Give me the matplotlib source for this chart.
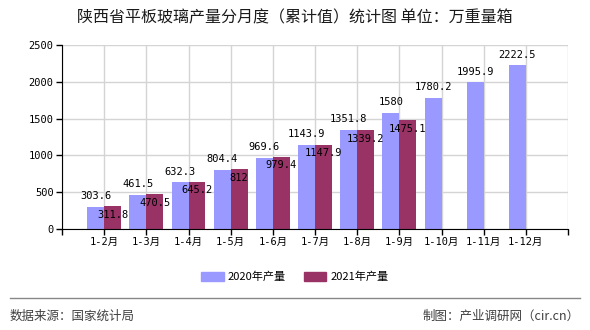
import matplotlib
matplotlib.use("Agg")
import matplotlib.pyplot as plt
import numpy as np
from matplotlib.patches import Patch
from matplotlib.lines import Line2D

plt.rcParams["font.family"] = ["Noto Sans CJK SC", "DejaVu Sans"]

months = ["1-2月", "1-3月", "1-4月", "1-5月", "1-6月", "1-7月",
          "1-8月", "1-9月", "1-10月", "1-11月", "1-12月"]
output_2020 = [303.6, 461.5, 632.3, 804.4, 969.6, 1143.9, 1351.8, 1580, 1780.2, 1995.9, 2222.5]
output_2021 = [311.8, 470.5, 645.2, 812, 979.4, 1147.9, 1339.2, 1475.1]
y_ticks = [0, 500, 1000, 1500, 2000, 2500]

C2020 = "#9999ff"
C2021 = "#993366"
MONO = ["DejaVu Sans Mono", "Noto Sans CJK SC"]

fig = plt.figure(figsize=(5.9, 3.3), dpi=100)
ax = fig.add_axes([62 / 590, 1 - 229 / 330, 506 / 590, 184 / 330])

w = 0.4
x20 = np.arange(len(output_2020))
x21 = np.arange(len(output_2021))
ax.bar(x20 - w / 2, output_2020, width=w, color=C2020, zorder=2)
ax.bar(x21 + w / 2, output_2021, width=w, color=C2021, zorder=2)

# 2020 values sit above their bars, 2021 values just inside the bar top
for x, v in zip(x20, output_2020):
    ax.annotate(f"{v:g}", (x - w / 2, v), xytext=(0, 4), textcoords="offset points",
                ha="center", va="bottom", fontsize=7.5, family=MONO, zorder=4)
for x, v in zip(x21, output_2021):
    ax.annotate(f"{v:g}", (x + w / 2, v), xytext=(0, -2.5), textcoords="offset points",
                ha="center", va="top", fontsize=7.5, family=MONO, zorder=4)

ax.set_xlim(-1, len(months))
ax.set_ylim(0, 2500)
ax.set_yticks(y_ticks)
ax.set_yticklabels([str(t) for t in y_ticks], family=MONO, fontsize=7.5)
ax.set_xticks(list(range(-1, len(months) + 1)))
ax.set_xticklabels([""] + months + [""], family=MONO, fontsize=7.5)
ax.tick_params(axis="both", length=4, width=1, color="black", pad=2)

ax.grid(True, color="#d4d4d4", linewidth=1, zorder=0)
ax.set_axisbelow(True)
for side in ("top", "right"):
    ax.spines[side].set_visible(False)
for side in ("left", "bottom"):
    ax.spines[side].set_color("black")
    ax.spines[side].set_zorder(3)

fig.text(0.5, 1 - 18 / 330, "陕西省平板玻璃产量分月度（累计值）统计图 单位：万重量箱",
         ha="center", va="center", fontsize=11.5, color="#1a1a1a")

handles = [Patch(color=C2020, label="2020年产量"), Patch(color=C2021, label="2021年产量")]
fig.legend(handles=handles, loc="center", bbox_to_anchor=(0.5, 1 - 277 / 330),
           ncol=2, frameon=False, fontsize=8, handlelength=2.0, handleheight=0.9,
           columnspacing=1.6, handletextpad=0.4)

fig.add_artist(Line2D([10 / 590, 580 / 590], [1 - 298 / 330] * 2,
                      color="#888888", linewidth=1))
fig.text(10 / 590, 1 - 316 / 330, "数据来源：国家统计局", ha="left", va="center",
         fontsize=9, color="#404040")
fig.text(580 / 590, 1 - 316 / 330, "制图：产业调研网（cir.cn）", ha="right", va="center",
         fontsize=9, color="#404040")

fig.savefig("out.png", dpi=100)
